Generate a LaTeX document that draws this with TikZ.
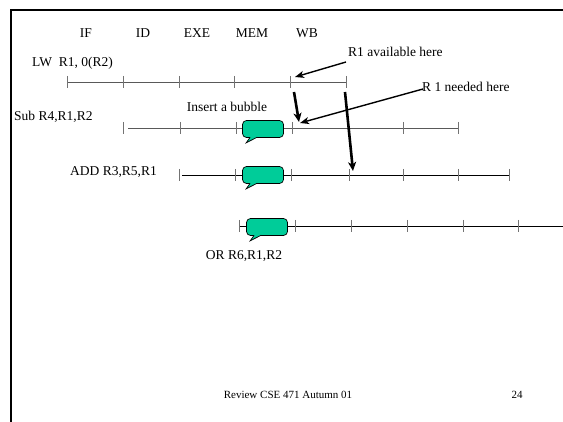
\documentclass[tikz,border=0pt]{standalone}
\usepackage{fontspec}
\setmainfont{Liberation Serif}
\usetikzlibrary{arrows.meta}
\definecolor{bubblegreen}{RGB}{0,204,153}

\begin{document}
\begin{tikzpicture}[
  x=1pt, y=-1pt,
  every node/.style={inner sep=0pt, font=\fontsize{13.5}{16}\selectfont},
  stageline/.style={draw=black!65, line width=0.9pt},
  stagetick/.style={draw=black!55, line width=0.8pt},
  bubblebox/.style={draw, fill=bubblegreen, rounded corners=4pt, line width=0.7pt,
    minimum width=41pt, minimum height=17pt},
  thinarrow/.style={-{Stealth[length=9pt, width=7pt, inset=2.5pt]}, line width=1.4pt},
  thickarrow/.style={-{Stealth[length=9pt, width=8pt, inset=2.5pt]}, line width=2.6pt},
  footer/.style={font=\fontsize{11}{13}\selectfont}
]
\useasboundingbox (0,0) rectangle (563,422);
% frame
\draw[line width=2pt] (11,422) -- (11,10) -- (563,10);

% stage names
\node (hif)  at (86,33)  {IF};
\node (hid)  at (143,33) {ID};
\node (hexe) at (197,33) {EXE};
\node (hmem) at (252,33) {MEM};
\node (hwb)  at (307,33) {WB};

% instructions
\node[anchor=west] (lw)  at (32,63)   {LW\ \ R1, 0(R2)};
\node[anchor=west] (sub) at (14,117)  {Sub R4,R1,R2};
\node[anchor=west] (add) at (70,172)  {ADD R3,R5,R1};
\node (or) at (244,256) {OR R6,R1,R2};

% time lines
\draw[stageline] (67,82) -- (346,82);
\foreach \x in {67,123,179,234,290,346}
  \draw[stagetick] (\x,76) -- (\x,88);

\draw[stageline] (128,128) -- (458,128);
\foreach \x in {123,180,236,292,348,403,458}
  \draw[stagetick] (\x,122) -- (\x,134);

\draw[line width=0.9pt] (182,175) -- (509,175);
\foreach \x in {179,235,291,349,403,458,509}
  \draw[stagetick] (\x,169) -- (\x,181);

\draw[line width=0.9pt] (239,226) -- (563,226);
\foreach \x in {239,295,351,407,463,518}
  \draw[stagetick] (\x,220) -- (\x,232);

% bubbles
\node[bubblebox] (bub1) at (263,129) {};
\filldraw[fill=bubblegreen, line width=0.7pt] ([xshift=8pt, yshift=0.6pt]bub1.south west)
  -- ([xshift=4pt, yshift=-5pt]bub1.south west) -- ([xshift=15pt, yshift=0.6pt]bub1.south west);
\node[bubblebox] (bub2) at (263,175) {};
\filldraw[fill=bubblegreen, line width=0.7pt] ([xshift=8pt, yshift=0.6pt]bub2.south west)
  -- ([xshift=4pt, yshift=-5pt]bub2.south west) -- ([xshift=15pt, yshift=0.6pt]bub2.south west);
\node[bubblebox] (bub3) at (267,227) {};
\filldraw[fill=bubblegreen, line width=0.7pt] ([xshift=8pt, yshift=0.6pt]bub3.south west)
  -- ([xshift=4pt, yshift=-5pt]bub3.south west) -- ([xshift=15pt, yshift=0.6pt]bub3.south west);
\node (insert) at (227,107) {Insert a bubble};

% notes and arrows
\node[anchor=west] (avail) at (348,52) {R1 available here};
\node[anchor=west] (needed) at (422,87) {R 1 needed here};
\coordinate (availfrom) at (346,62);
\coordinate (availto) at (295,77);
\coordinate (neededfrom) at (423,89);
\coordinate (neededto) at (300,123);
\draw[thinarrow] (availfrom) -- (availto);
\draw[thinarrow] (neededfrom) -- (neededto);

\coordinate (wb1) at (294,92);
\coordinate (use1) at (299,122);
\coordinate (wb2) at (345,92);
\coordinate (use2) at (353,171);
\draw[thickarrow] (wb1) -- (use1);
\draw[thickarrow] (wb2) -- (use2);

% footer
\node[footer] (review) at (288,395) {Review CSE 471 Autumn 01};
\node[footer] (page) at (517,395) {24};
\end{tikzpicture}
\end{document}
